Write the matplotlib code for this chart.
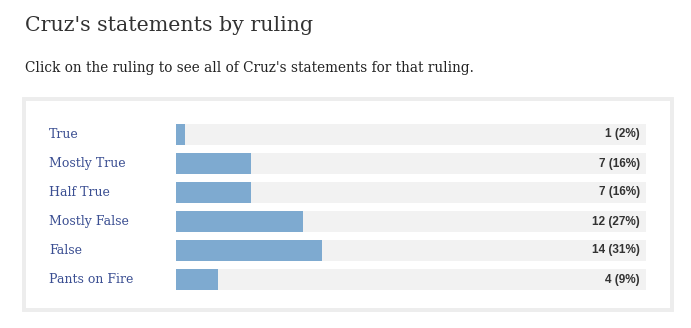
import matplotlib
matplotlib.use("Agg")
import matplotlib.pyplot as plt
from matplotlib.patches import Rectangle
from matplotlib.transforms import blended_transform_factory

rulings = ["True", "Mostly True", "Half True", "Mostly False", "False", "Pants on Fire"]
counts = [1, 7, 7, 12, 14, 4]
percents = [2, 16, 16, 27, 31, 9]

W, H = 691, 328
fig = plt.figure(figsize=(W / 100, H / 100), dpi=100)

def fx(px):
    return px / W

def fy(py):
    return 1 - py / H

serif = "DejaVu Serif"
fig.text(fx(25), fy(31), "Cruz's statements by ruling", family=serif,
         fontsize=14.8, color="#333333", va="baseline")
fig.text(fx(25), fy(72), "Click on the ruling to see all of Cruz's statements for that ruling.",
         family=serif, fontsize=9.8, color="#222222", va="baseline")

# outer box
fig.add_artist(Rectangle((fx(24), fy(310)), fx(648), (310 - 99) / H,
                         transform=fig.transFigure, facecolor="white",
                         edgecolor="#ededed", linewidth=2.8, zorder=-1))

ax = fig.add_axes([fx(176), fy(290), fx(646 - 176), (290 - 124) / H])
h = 21 / 29
y = list(range(len(rulings)))
ax.barh(y, [100] * len(y), height=h, color="#f2f2f2")
ax.barh(y, percents, height=h, color="#7eaad0")
ax.set_xlim(0, 100)
ax.set_ylim(len(y) - 1 + h / 2, -h / 2)
ax.axis("off")

trans = blended_transform_factory(fig.transFigure, ax.transData)
for i, (r, c, p) in enumerate(zip(rulings, counts, percents)):
    ax.text(fx(49), i, r, transform=trans, family=serif, fontsize=9,
            color="#3b4f92", va="center")
    ax.annotate(f"{c} ({p}%)", (100, i), xytext=(-4.3, 0), textcoords="offset points",
                ha="right", va="center", fontsize=8.5, fontweight="bold",
                color="#333333", family="Liberation Sans")

fig.savefig("out.png", dpi=100)
